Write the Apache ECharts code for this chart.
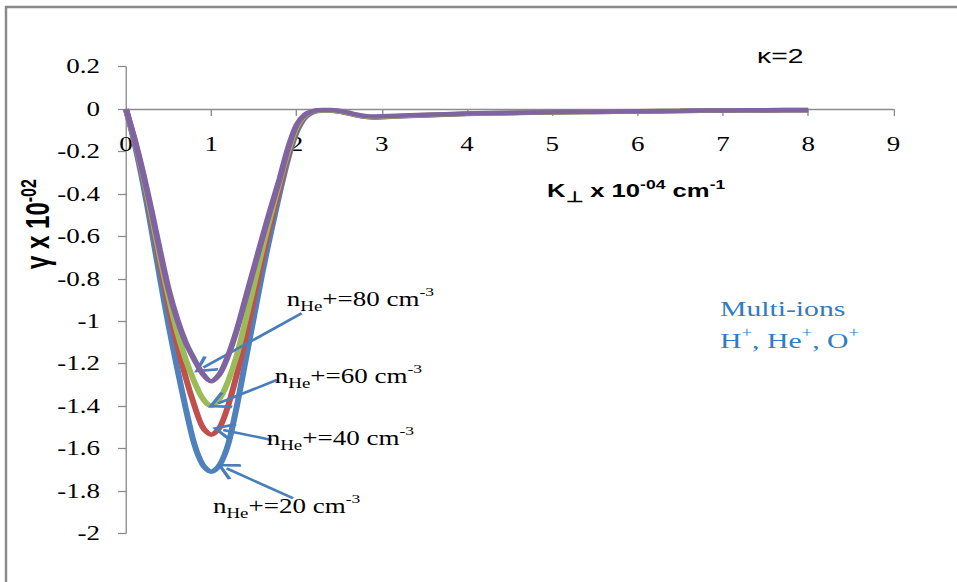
<!DOCTYPE html>
<html>
<head>
<meta charset="utf-8">
<script src="https://cdn.jsdelivr.net/npm/echarts@6/dist/echarts.min.js"></script>
<style>
  html, body { margin: 0; padding: 0; background: #fff; overflow: hidden; }
  #wrap { width: 957px; height: 582px; overflow: hidden; }
  #chart { height: 582px; transform-origin: 0 0; }
</style>
</head>
<body>
<div id="wrap"><div id="chart"></div></div>
<script>
// Perpendicular wavenumber K⊥ (×10^-4 cm^-1)
const kPerp = [0, 0.1, 0.2, 0.3, 0.4, 0.5, 0.6, 0.7, 0.8, 0.9, 1.0, 1.1, 1.2, 1.3, 1.4, 1.5, 1.6, 1.7, 1.8, 1.9, 2.0,
  2.1, 2.2, 2.3, 2.4, 2.5, 2.6, 2.7, 2.8, 2.9, 3.0, 3.5, 4, 4.5, 5, 5.5, 6, 6.5, 7, 7.5, 8];

// Growth rate γ (×10^-2) for each He+ density
const gammaHe20 = [0, -0.16, -0.35, -0.57, -0.80, -1.02, -1.22, -1.41, -1.578, -1.677, -1.71, -1.677, -1.578, -1.40, -1.19, -0.98, -0.77, -0.58, -0.40, -0.235, -0.11,
  -0.04, -0.014, -0.008, -0.008, -0.012, -0.020, -0.029, -0.036, -0.039, -0.038, -0.030, -0.023, -0.019, -0.016, -0.013, -0.011, -0.009, -0.007, -0.006, -0.005];
const gammaHe40 = [0, -0.15, -0.32, -0.52, -0.73, -0.93, -1.11, -1.265, -1.395, -1.50, -1.535, -1.50, -1.395, -1.25, -1.08, -0.89, -0.70, -0.53, -0.37, -0.215, -0.095,
  -0.033, -0.011, -0.007, -0.007, -0.011, -0.019, -0.028, -0.035, -0.038, -0.037, -0.029, -0.022, -0.018, -0.015, -0.013, -0.011, -0.009, -0.007, -0.006, -0.005];
const gammaHe60 = [0, -0.145, -0.31, -0.50, -0.70, -0.885, -1.05, -1.18, -1.285, -1.365, -1.40, -1.365, -1.28, -1.16, -1.00, -0.83, -0.655, -0.495, -0.345, -0.20, -0.085,
  -0.029, -0.010, -0.006, -0.006, -0.010, -0.018, -0.027, -0.034, -0.037, -0.036, -0.028, -0.022, -0.018, -0.015, -0.012, -0.010, -0.008, -0.007, -0.005, -0.004];
const gammaHe80 = [0, -0.14, -0.30, -0.48, -0.67, -0.85, -0.99, -1.10, -1.18, -1.248, -1.283, -1.248, -1.16, -1.04, -0.895, -0.75, -0.605, -0.465, -0.33, -0.185, -0.075,
  -0.025, -0.008, -0.004, -0.004, -0.008, -0.016, -0.025, -0.032, -0.035, -0.034, -0.027, -0.021, -0.017, -0.014, -0.012, -0.010, -0.008, -0.006, -0.005, -0.004];

const densityLabels = ['20', '40', '60', '80'];
const seriesValues = [gammaHe20, gammaHe40, gammaHe60, gammaHe80];
const seriesColors = ['#4F81BD', '#C0504D', '#9BBB59', '#8064A2'];

// Axis ranges
const xMin = 0, xMax = 9, xStep = 1;
const yMin = -2, yMax = 0.2, yStep = 0.2;

// Callout arrows (text anchor → curve) and label anchors, in data units
const arrowFrom = [[1.96, -1.835], [1.71, -1.56], [1.77, -1.277], [2.06, -0.963]];
const arrowTo   = [[1.18, -1.694], [1.14, -1.513], [1.08, -1.387], [0.907, -1.218]];
const labelAt   = [[1.02, -1.872], [1.65, -1.552], [1.745, -1.258], [1.885, -0.895]];

// The figure is laid out narrower and widened horizontally as a whole
const STRETCH = 1.35;
const W = 957, H = 582;
const baseW = W / STRETCH;
const sx = v => v / STRETCH;

const el = document.getElementById('chart');
el.style.width = baseW + 'px';
el.style.transform = 'scaleX(' + STRETCH + ')';

const serif = '"Liberation Serif", "Times New Roman", serif';
const sans = '"Liberation Sans", Arial, sans-serif';
const arrowBlue = '#4A7EBB';
const chevron = 'path://M50,0 L100,74 L89,84 L50,24 L11,84 L0,74 Z';

const calloutRich = {
  n:   { fontFamily: serif, fontSize: 20, lineHeight: 28, color: '#000' },
  sub: { fontFamily: serif, fontSize: 14, lineHeight: 14, verticalAlign: 'bottom', color: '#000' },
  sup: { fontFamily: serif, fontSize: 13, lineHeight: 13, verticalAlign: 'top', color: '#000' }
};

const series = seriesValues.map((vals, i) => ({
  name: 'nHe+=' + densityLabels[i],
  type: 'line',
  data: kPerp.map((k, j) => [k, vals[j]]),
  smooth: 0.3,
  showSymbol: false,
  symbol: 'none',
  lineStyle: { color: seriesColors[i], width: 4.5 },
  itemStyle: { color: seriesColors[i] },
  z: 2 + i,
  markLine: {
    silent: true,
    animation: false,
    symbol: ['none', chevron],
    symbolSize: [18, 17],
    lineStyle: { color: arrowBlue, width: 2.5, type: 'solid' },
    label: { show: false },
    data: [[{ coord: arrowFrom[i] }, { coord: arrowTo[i] }]]
  },
  markPoint: {
    silent: true,
    animation: false,
    symbol: 'circle',
    symbolSize: 0,
    label: {
      show: true,
      position: 'right',
      distance: 0,
      formatter: '{n|n}{sub|He}{n|+=' + densityLabels[i] + ' cm}{sup|-3}',
      rich: calloutRich
    },
    data: [{ coord: labelAt[i] }]
  }
}));

const grid = { left: sx(126), right: sx(63.7), top: 66.7, bottom: 48.7 };
// keep the K axis on the γ = 0 line
const gridH = H - grid.top - grid.bottom;
const zeroFromBottom = gridH * (0 - yMin) / (yMax - yMin);

const chart = echarts.init(el, null, { renderer: 'svg' });

chart.setOption({
  animation: false,
  backgroundColor: '#fff',
  grid: grid,
  xAxis: {
    type: 'value',
    min: xMin, max: xMax, interval: xStep,
    position: 'bottom',
    offset: -zeroFromBottom,
    axisLine: { onZero: false, lineStyle: { color: '#8c8c8c', width: 1.3 } },
    axisTick: { show: true, length: 7, lineStyle: { color: '#8c8c8c', width: 1 } },
    axisLabel: { color: '#000', fontFamily: serif, fontSize: 20, margin: 25 },
    splitLine: { show: false }
  },
  yAxis: {
    type: 'value',
    min: yMin, max: yMax, interval: yStep,
    axisLine: { show: true, onZero: false, lineStyle: { color: '#8c8c8c', width: 1 } },
    axisTick: { show: true, length: sx(8), lineStyle: { color: '#8c8c8c', width: 1.3 } },
    axisLabel: {
      color: '#000', fontFamily: serif, fontSize: 20, margin: sx(26),
      formatter: v => String(Math.round(v * 10) / 10)
    },
    splitLine: { show: false }
  },
  series: series,
  graphic: [
    // outer frame
    { type: 'line', shape: { x1: sx(5), y1: 7, x2: baseW, y2: 7 }, style: { stroke: '#898989', lineWidth: 2.4 }, silent: true },
    { type: 'line', shape: { x1: sx(6), y1: 6, x2: sx(6), y2: H }, style: { stroke: '#898989', lineWidth: 1.8 }, silent: true },
    // x axis title
    {
      type: 'text', left: sx(547), top: 178, silent: true,
      style: {
        text: '{b|K}{s|⊥}{b| x 10}{p|-04}{b| cm}{p|-1}',
        rich: {
          b: { fontFamily: sans, fontWeight: 'bold', fontSize: 19, lineHeight: 26, fill: '#000' },
          s: { fontFamily: sans, fontWeight: 'bold', fontSize: 15, lineHeight: 15, verticalAlign: 'bottom', fill: '#000' },
          p: { fontFamily: sans, fontWeight: 'bold', fontSize: 13, lineHeight: 13, verticalAlign: 'top', fill: '#000' }
        }
      }
    },
    // y axis title
    {
      type: 'text', x: sx(38), y: 224, rotation: Math.PI / 2, silent: true,
      style: {
        text: '{b|γ x 10}{p|-02}',
        align: 'center', verticalAlign: 'middle',
        rich: {
          b: { fontFamily: sans, fontWeight: 'bold', fontSize: 24, lineHeight: 30, fill: '#000' },
          p: { fontFamily: sans, fontWeight: 'bold', fontSize: 16, lineHeight: 16, verticalAlign: 'top', fill: '#000' }
        }
      }
    },
    // kappa index
    {
      type: 'text', left: sx(757), top: 45, silent: true,
      style: { text: 'κ=2', fontFamily: sans, fontSize: 21, fill: '#000' }
    },
    // ion composition note
    {
      type: 'text', left: sx(720), top: 298, silent: true,
      style: {
        text: '{t|Multi-ions}\n{t|H}{p|+}{t|, He}{p|+}{t|, O}{p|+}',
        rich: {
          t: { fontFamily: serif, fontSize: 22, lineHeight: 32, fill: '#2E7CC4' },
          p: { fontFamily: serif, fontSize: 14, lineHeight: 14, verticalAlign: 'top', fill: '#2E7CC4' }
        }
      }
    }
  ]
});
</script>
</body>
</html>
